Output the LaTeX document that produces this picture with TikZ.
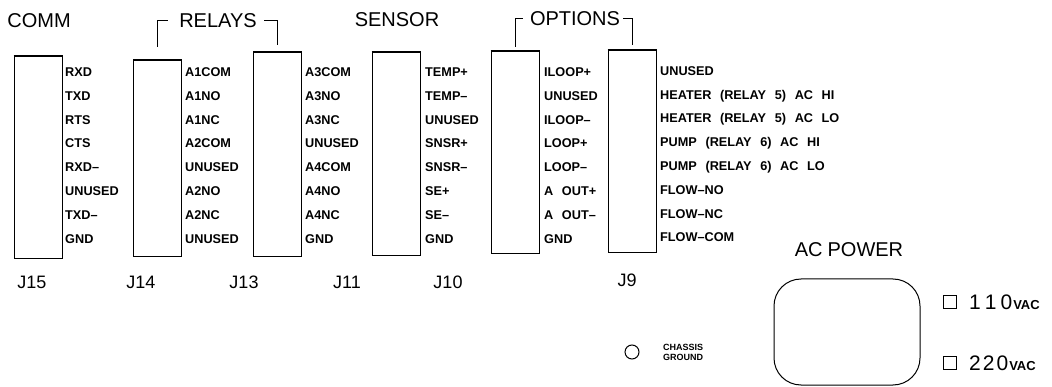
\documentclass[tikz,border=0pt]{standalone}
\usepackage{fontspec}
\setmainfont{Liberation Sans}
\newcommand\mypinfont{\fontsize{12.7}{14}\bfseries\spaceskip=0.68em\relax}
\begin{document}
\begin{tikzpicture}[x=1pt,y=-1pt,
  conn/.style={draw,line width=1pt,minimum width=48pt,inner sep=0pt},
  pin/.style={anchor=base west,inner sep=0pt,font=\mypinfont},
  head/.style={inner sep=0pt,font=\fontsize{20}{24}\selectfont},
  jlab/.style={inner sep=0pt,font=\fontsize{18}{20}\selectfont},
  brk/.style={line width=1pt},
  topline/.style={line width=2pt},
  selbox/.style={draw,line width=1pt,minimum size=13pt,inner sep=0pt},
  bigdig/.style={anchor=west,inner sep=0pt}]
\useasboundingbox[fill=white] (0,0) rectangle (1052,387);

% connector blocks
\node[conn,minimum height=202pt] (J15) at (38,158) {};
\node[conn,minimum height=196pt] (J14) at (157.5,159) {};
\node[conn,minimum height=204pt] (J13) at (277.5,155) {};
\node[conn,minimum height=203pt] (J11) at (396,154.5) {};
\node[conn,minimum height=202pt] (J10) at (515,153) {};
\node[conn,minimum height=202pt] (J9) at (632,152) {};
\foreach \b in {J15,J14,J13,J11,J10,J9}
  \draw[topline] (\b.north west) -- (\b.north east);

% pin labels
\foreach \t [count=\i] in {RXD,TXD,RTS,CTS,RXD\textendash,UNUSED,TXD\textendash,GND}
  \node[pin] (J15p\i) at (65,{52.7+23.8*\i}) {\t};
\foreach \t [count=\i] in {A1COM,A1NO,A1NC,A2COM,UNUSED,A2NO,A2NC,UNUSED}
  \node[pin] (J14p\i) at (185,{52.7+23.8*\i}) {\t};
\foreach \t [count=\i] in {A3COM,A3NO,A3NC,UNUSED,A4COM,A4NO,A4NC,GND}
  \node[pin] (J13p\i) at (305,{52.7+23.8*\i}) {\t};
\foreach \t [count=\i] in {TEMP+,TEMP\textendash,UNUSED,SNSR+,SNSR\textendash,SE+,SE\textendash,GND}
  \node[pin] (J11p\i) at (425,{52.7+23.8*\i}) {\t};
\foreach \t [count=\i] in {ILOOP+,UNUSED,ILOOP\textendash,LOOP+,LOOP\textendash,A OUT+,A OUT\textendash,GND}
  \node[pin] (J10p\i) at (544,{52.7+23.8*\i}) {\t};
\foreach \t [count=\i] in {UNUSED,HEATER (RELAY 5) AC HI,HEATER (RELAY 5) AC LO,PUMP (RELAY 6) AC HI,PUMP (RELAY 6) AC LO,FLOW\textendash NO,FLOW\textendash NC,FLOW\textendash COM}
  \node[pin] (J9p\i) at (660,{51.5+23.8*\i}) {\t};

% connector names
\node[jlab] (n15) at (32,282) {J15};
\node[jlab] (n14) at (141,282) {J14};
\node[jlab] (n13) at (244,282) {J13};
\node[jlab] (n11) at (347,282) {J11};
\node[jlab] (n10) at (448,282) {J10};
\node[jlab] (n9) at (627,280) {J9};

% headings
\node[head] (comm) at (39,21) {COMM};
\node[head] (relays) at (218,21) {RELAYS};
\node[head] (sensor) at (397,20) {SENSOR};
\node[head] (options) at (575,19) {OPTIONS};
\node[head] (acpower) at (849,250) {AC\hspace{5pt}POWER};

% brackets
\draw[brk] (J14.north |- 0,47) |- ([xshift=-11pt]relays.west);
\draw[brk] (J13.north |- 0,45) |- ([xshift=7pt]relays.east);
\draw[brk] (J10.north |- 0,47) |- ([xshift=-7pt]options.west);
\draw[brk] (J9.north |- 0,45) |- ([xshift=3pt]options.east);

% chassis ground
\node[draw,circle,line width=1pt,minimum size=14pt,inner sep=0pt] (gnd) at (632,352) {};
\node[anchor=west,inner sep=0pt,align=left,font=\fontsize{9}{10}\bfseries] (gndl) at (663,352) {CHASSIS\\GROUND};

% AC power inlet
\node[draw,line width=1pt,rounded corners=27pt,minimum width=146pt,minimum height=106pt,inner sep=0pt] (inlet) at (847,332) {};

% voltage selectors
\node[selbox] (s110) at (949.5,302) {};
\node[selbox] (s220) at (949.5,362.5) {};
\node[bigdig] (t110) at (969,302.5) {\fontsize{21}{24}\selectfont 1\kern4pt1\kern4pt0\kern1pt\fontsize{13}{14}\bfseries VAC};
\node[bigdig] (t220) at (969,363) {\fontsize{21}{24}\selectfont 2\kern2pt2\kern2pt0\kern1pt\fontsize{13}{14}\bfseries VAC};
\end{tikzpicture}
\end{document}
